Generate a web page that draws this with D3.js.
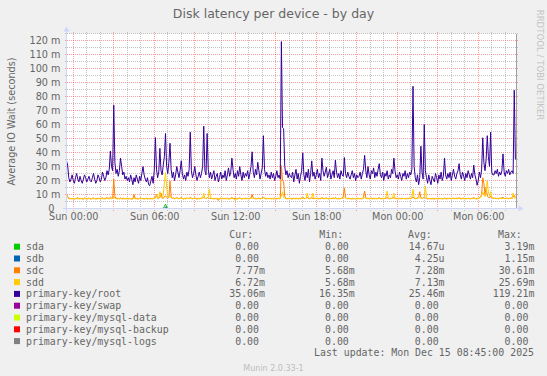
<!DOCTYPE html>
<html>
<head>
<meta charset="utf-8">
<script src="https://cdn.jsdelivr.net/npm/d3@7"></script>
<style>
  html, body { margin: 0; padding: 0; background: #f0f0f0; }
  svg { display: block; }
  text { font-family: "DejaVu Sans", sans-serif; fill: #666; }
  text.mono { font-family: "DejaVu Sans Mono", monospace; }
</style>
</head>
<body>
<div id="chart"></div>
<script>
// 5-minute samples starting Sat 23:30, values in milliseconds
const startTime = new Date(2025, 11, 13, 23, 30);
const endTime = new Date(2025, 11, 15, 8, 50);
const stepMin = 5;

const rootVals = [
  34,31,22,19,21,24,20,18,22,25,21,19,23,20,18,21,24,22,19,21,
  23,20,19,22,25,21,18,20,24,22,19,21,26,23,20,22,27,24,28,41,
  30,27,73.8,33,25,28,23,27,36,30,24,26,21,23,20,22,19,24,21,17,
  22,19,24,21,18,23,20,25,30,24,21,19,22,17,16.35,20,23,18,27,50.7,
  28,22,26,43,27,24,31,37,53.6,30,25,33,46.6,28,22,26,20,24,30,26,
  22,27,34,25,21,24,20,26,23,28,54.5,27,22,25,30,24,20,23,26,22,
  25,30,58.8,27,24,53.6,28,22,26,21,24,27,20,23,25,19,22,26,21,24,
  22,27,20,24,29,23,26,36,28,22,25,21,27,23,30,24,20,26,22,25,
  23,27,21,25,30,40.5,26,22,28,24,33,27,21,25,29,52,28,23,26,22,
  24,21,26,22,25,20,23,27,22,24,21,119.21,57.8,57,30,24,27,22,25,23,
  22,26,19,24,28,21,25,18,23,27,39.7,24,20,26,22,28,19,25,34,23,
  26,21,24,28,22,25,20,36,27,23,26,29.5,22,25,28,21,24,27,22,34.5,
  26,22,25,21,27,24,23,36.4,25,22,26,23,21,24,27,22,25,20,24,22,
  23,26,21,25,28,38,27,22,30,24,21,27,25,29,22,26,23,28,32,24,
  22,26,20,25,23,27,21,24,22,28,25,36,27,22,24,21,26,23,20,25,
  23,27,21,25,22,26,24,28,87.3,30,22,19,24,17,22,44.5,26,21,60,27,
  22,18,24,20,17,23,21,19,25,22,18,24,21,26,20,23,36,24,21,25,
  22,26,20,24,28,23,21,25,27,32,24,21,26,23,20,25,22,27,24,21,
  25,22,31,24,21,16.6,20,26,22,28,50.5,33,27,35,52,37,30,54.5,26,24,
  24,27,25,28,23,26,24,27,39,26,23,27,25,28,24,26,27,25,84.5,35.06
];

const sdcVals = [
  10,8.5,7,7.5,6.8,7.2,7,6.6,7.4,7,7.8,7.1,6.9,7.3,7,6.7,7.5,7.2,6.9,7.1,
  7.4,7,6.8,7.2,7.6,7.1,6.9,7.3,7,7.5,6.8,7.2,7.7,7.1,6.9,7.3,7.8,7.2,7.4,8.2,
  7.6,7.2,21,8.4,7.5,7.1,7.3,6.9,7.6,7.2,7,7.4,6.8,7.1,7.3,6.9,7.2,7,6.6,7.1,
  10,7.4,7,7.3,6.9,7.2,7.5,7,7.3,6.8,7.1,7.4,6.9,7.2,7,7.3,6.8,7.1,7.6,8,
  10,7.5,7.1,8,11,7.6,7.2,8.5,9,7.8,7.4,8,19.7,8.2,7.3,7.6,7,7.4,7.9,7.2,
  7,7.4,7.8,7.2,6.9,7.3,7,7.5,7.1,7.3,8,7.4,7,7.2,7.6,7.1,6.8,7.3,7,7.2,
  7.4,7.8,8.2,7.3,7,7.9,7.5,7.2,7,7.4,7.1,6.9,7.3,7,7.2,5.68,7.1,7.4,7,7.3,
  6.9,7.2,7,7.4,7.1,6.8,7.3,7.9,7.2,7,7.4,7.1,6.9,7.3,7.6,7.1,6.8,7.2,7,7.4,
  7.1,7.3,6.9,7.2,7.5,10,7.6,7.1,7.3,6.9,7.2,7.4,7,7.2,7.5,8.3,7.4,7.1,6.9,7.2,
  7,7.3,6.9,7.2,7,7.4,6.8,7.1,7.3,7,7.2,30.61,20,19,8.5,7.2,6.9,7.3,7,7.2,
  7.1,6.8,7.3,7,7.4,7.1,6.9,7.2,7,7.5,8.2,7.3,7,7.4,8,7.2,6.9,7.3,7.6,7.2,
  7,7.3,7.1,7.4,6.9,7.2,7,7.8,7.3,7,7.2,7.6,7.1,6.9,7.3,7,7.2,7.5,7.1,7.9,
  7.2,7,7.3,6.9,7.2,7.5,8.5,14.7,8,7.2,7,7.4,7.1,6.9,7.3,7,7.2,6.8,7.1,7.3,
  7,7.2,6.9,7.3,8,12.4,7.8,7.1,7.4,7,7.2,7.5,7.1,7.3,6.9,7.2,7,7.4,7.8,7.1,
  7,7.3,6.9,7.2,7.4,7.8,7.1,7,7.3,7.1,7.4,7.8,7.2,7,7.3,6.9,7.2,7,7.4,7.1,
  7.2,6.9,7.3,7,7.2,7.4,7.1,7.5,8.3,7.4,7,7.2,7.5,8.5,12,7.6,7.2,7.4,8.2,7.6,
  7.1,6.8,7.2,7,6.9,7.3,7,6.8,7.2,7.1,6.9,7.3,7,7.2,6.8,7.1,7.6,7.2,7,7.3,
  7.1,7.3,6.9,7.2,7.4,7,7.2,7.5,7.1,7.6,7.3,7,7.2,7.4,6.9,7.2,7,7.3,7.1,7,
  7.2,7.4,7.8,7.2,7,6.8,7.3,7.6,8.5,10,22,18,10,15,9,8,7.6,9,7.8,7.4,
  7.2,7.5,7.1,7.3,7,7.4,7.2,7.6,8,7.3,7.1,7.4,7.2,7,7.3,7.5,7.2,8,9.5,7.77
];

const sddVals = [
  9.5,8,7,6.8,7.2,6.9,7.1,6.6,7,7.3,6.8,7.1,6.9,7.2,6.7,7,7.3,6.9,7.1,6.8,
  7.2,6.9,7,7.3,6.8,7.1,7,6.7,7.2,6.9,7.1,7.4,6.8,7,7.2,6.9,7.5,7.1,6.8,7.3,
  7,7.2,8.5,7.4,7,6.8,7.1,6.9,7.2,7,6.7,7.1,6.9,7.2,6.8,7,7.1,6.9,6.6,7,
  7.2,6.9,7.1,6.8,7,7.3,6.9,7.1,7,6.8,7.2,6.9,7.1,7,6.8,7.1,6.9,7.2,7,7.4,
  9.8,7.3,7.6,12,8,7.5,10,18,25.69,15,8.5,7.8,9,7.6,7.2,7.4,7,7.2,7.6,7.1,
  6.9,7.2,7.5,7,6.8,7.1,6.9,7.3,7,7.2,7.6,7.1,6.9,7.2,7.4,7,6.8,7.1,6.9,7.2,
  7,7.4,11,7.3,7,7.5,8.2,13.8,7.8,7.2,7,6.8,7.1,6.9,7.2,7,6.8,7.1,6.9,7,
  7.2,6.9,7.1,7,6.8,7.2,7,7.4,7.1,6.9,5.68,7,6.8,7.1,7.3,7,6.9,7.2,7,7.1,
  6.9,7.2,7,7.1,7.3,7.6,7.2,7,6.9,7.1,7.3,7,6.8,7.1,7.2,7.8,7.1,6.9,7,7.2,
  6.9,7.1,7,7.2,6.8,7,7.1,6.9,7.2,7,7.1,9,12,8,7.4,7.1,6.9,7,7.2,7,
  6.9,7.1,7.3,7,6.8,7.2,7,7.1,6.9,7.2,7.4,7.1,7,7.3,11,7.5,7.1,7.4,8,11,
  7.3,7,7.2,6.9,7.1,7,7.3,7.6,7.1,6.9,7.2,7,7.1,6.8,7,7.2,6.9,7.1,7,7.3,
  7,7.2,6.9,7.1,7,7.3,7.6,8.2,7.4,7,7.2,6.9,7.1,7,6.8,7.1,7,7.2,6.9,7,
  7.1,6.9,7.2,7,7.3,7.8,7.2,7,7.1,6.9,7.2,7,6.8,7.1,7,7.2,6.9,7.1,7.3,7,
  6.9,7.1,7,7.2,8,12.4,7.5,7.1,7,7.3,8.2,11,7.4,7.1,6.9,7.2,7,7.1,6.9,7.2,
  7,7.1,6.9,7.2,7,7.3,7.1,7.6,13.6,7.8,7.1,7,7.2,7.5,8,7.4,7.1,7.6,8.5,16,
  8,7.1,6.9,7.2,7,6.8,7.1,7,6.9,7.2,7,6.8,7.1,7,7.2,6.9,7.3,7,6.8,7.1,
  7,7.2,6.9,7.1,7.3,7,7.2,6.9,7.1,7.4,7,6.8,7.1,7,7.2,6.9,7.1,7,7.2,6.9,
  7.1,7,7.3,7.1,6.9,7.2,7,7.4,7.8,9,12,10,8.5,11,19.7,12,9,12,8,7.4,
  7.1,7.3,7,7.2,6.9,7.1,7.3,7,7.5,7.2,7,7.1,7.3,7,7.2,7.4,7.1,11,8,6.72
];

// sparse [sampleIndex, value] readings for the near-zero series
const sdaPts = [[0,0],[86,0],[87,1.5],[88,3.19],[89,1.2],[90,0],[399,0]];
const sdbPts = [[0,0],[87,0],[88,1.15],[89,0.55],[90,0],[399,0]];
const zeroPts = [[0,0],[399,0]];

const seriesNames = ['sda','sdb','sdc','sdd','primary-key/root','primary-key/swap',
  'primary-key/mysql-data','primary-key/mysql-backup','primary-key/mysql-logs'];
const seriesColors = ['#00cc00','#0066b3','#ff8000','#ffcc00','#330099','#990099',
  '#ccff00','#ff0000','#808080'];
const curText = ['0.00','0.00','7.77m','6.72m','35.06m','0.00','0.00','0.00','0.00'];
const minText = ['0.00','0.00','5.68m','5.68m','16.35m','0.00','0.00','0.00','0.00'];
const avgText = ['14.67u','4.25u','7.28m','7.13m','25.46m','0.00','0.00','0.00','0.00'];
const maxText = ['3.19m','1.15m','30.61m','25.69m','119.21m','0.00','0.00','0.00','0.00'];
const colHeads = ['Cur:','Min:','Avg:','Max:'];

const yTicks = [0,10,20,30,40,50,60,70,80,90,100,110,120];
const yMax = 125;

const toPts = arr => arr.map((v, i) => [i, v]);
const seriesPts = [sdaPts, sdbPts, toPts(sdcVals), toPts(sddVals), toPts(rootVals),
  zeroPts, zeroPts, zeroPts, zeroPts];

// ---- layout
const W = 547, H = 376;
const L = 66.5, R = 516.5, T = 33.5, B = 208.5;

const svg = d3.select('#chart').append('svg').attr('width', W).attr('height', H);
svg.append('rect').attr('width', W).attr('height', H).attr('fill', '#f0f0f0');
svg.append('rect').attr('x', L).attr('y', T).attr('width', R - L).attr('height', B - T).attr('fill', '#fff');

const x = d3.scaleTime().domain([startTime, endTime]).range([L, R]);
const y = d3.scaleLinear().domain([0, yMax]).range([B, T]);
const tAt = i => new Date(+startTime + i * stepMin * 60000);

// grid
const gridG = svg.append('g').attr('shape-rendering', 'crispEdges');
const minorCol = 'rgba(150,150,150,0.55)', majorCol = 'rgba(255,0,0,0.38)';
const yMinor = d3.range(5, yMax + 1, 5);
gridG.selectAll('line.ym').data(yMinor).join('line')
  .attr('x1', L - 2).attr('x2', R + 2).attr('y1', d => y(d)).attr('y2', d => y(d))
  .attr('stroke', d => d % 10 === 0 ? majorCol : minorCol)
  .attr('stroke-dasharray', '1 1');
const xMinor = x.ticks(d3.timeHour.every(1));
const xMajor = x.ticks(d3.timeHour.every(3));
gridG.selectAll('line.xm').data(xMinor.filter(d => d.getHours() % 3 !== 0)).join('line')
  .attr('x1', d => x(d)).attr('x2', d => x(d)).attr('y1', T - 2).attr('y2', B + 2)
  .attr('stroke', minorCol).attr('stroke-dasharray', '1 1');
gridG.selectAll('line.xM').data(xMajor).join('line')
  .attr('x1', d => x(d)).attr('x2', d => x(d)).attr('y1', T - 2).attr('y2', B + 2)
  .attr('stroke', majorCol).attr('stroke-dasharray', '1 1');

// series
const line = d3.line().x(d => x(tAt(d[0]))).y(d => y(d[1]));
const seriesG = svg.append('g');
seriesPts.forEach((pts, k) => {
  seriesG.append('path').datum(pts)
    .attr('fill', 'none').attr('stroke', seriesColors[k]).attr('stroke-width', 1)
    .attr('stroke-linejoin', 'round').attr('d', line);
});

// right edge
svg.append('line').attr('x1', R).attr('x2', R).attr('y1', T).attr('y2', B)
  .attr('stroke', '#a0a0a0').attr('shape-rendering', 'crispEdges');

// axes + arrows
const axisCol = '#cfd6f8';
svg.append('line').attr('x1', L - 4).attr('x2', R + 4).attr('y1', B).attr('y2', B)
  .attr('stroke', axisCol).attr('shape-rendering', 'crispEdges');
svg.append('line').attr('x1', L).attr('x2', L).attr('y1', B + 4).attr('y2', T - 4)
  .attr('stroke', axisCol).attr('shape-rendering', 'crispEdges');
svg.append('path').attr('d', `M${R + 2},${B - 3}L${R + 7},${B}L${R + 2},${B + 3}Z`).attr('fill', axisCol);
svg.append('path').attr('d', `M${L - 3},${T - 2}L${L},${T - 7}L${L + 3},${T - 2}Z`).attr('fill', axisCol);

const yAxis = d3.axisLeft(y).tickValues(yTicks).tickSize(0).tickPadding(6)
  .tickFormat(d => d === 0 ? '0  ' : d + ' m');
svg.append('g').attr('transform', `translate(${L},0)`).call(yAxis)
  .call(g => g.select('.domain').remove())
  .selectAll('text').attr('font-family', 'DejaVu Sans').attr('font-size', 9.7)
  .attr('fill', '#666').style('white-space', 'pre');

const xAxis = d3.axisBottom(x).ticks(d3.timeHour.every(6)).tickSize(0)
  .tickFormat(d3.timeFormat('%a %H:%M'));
svg.append('g').attr('transform', `translate(0,${B})`).call(xAxis)
  .call(g => g.select('.domain').remove())
  .selectAll('text').attr('y', 11.5).attr('dy', null)
  .attr('font-family', 'DejaVu Sans').attr('font-size', 9.7).attr('fill', '#666');

// titles
svg.append('text').attr('x', 273.5).attr('y', 17.5).attr('text-anchor', 'middle')
  .attr('font-size', 12.5).text('Disk latency per device - by day');
svg.append('text').attr('transform', 'translate(14.5,121.5) rotate(-90)')
  .attr('text-anchor', 'middle').attr('font-size', 9.7).text('Average IO Wait (seconds)');
svg.append('text').attr('transform', 'translate(536.5,65) rotate(90)')
  .attr('text-anchor', 'middle').attr('font-size', 8.6).attr('fill', '#c4c4c4')
  .style('fill', '#c4c4c4').text('RRDTOOL / TOBI OETIKER');

// legend
const lg = svg.append('g');
const fs = 9.9;
const headX = [229.3, 319.3, 408, 498];
const numEnd = [259, 348.8, 438.6, 528.4];
const cols = [curText, minText, avgText, maxText];
lg.selectAll('text.head').data(colHeads).join('text').attr('class', 'mono')
  .attr('x', (d, i) => headX[i]).attr('y', 238).attr('font-size', fs).text(d => d);

const rowY = i => 250.2 + i * 11.8;
seriesNames.forEach((name, i) => {
  lg.append('rect').attr('x', 14).attr('y', rowY(i) - 6.5).attr('width', 6).attr('height', 6)
    .attr('fill', seriesColors[i]);
  lg.append('text').attr('class', 'mono').attr('x', 26).attr('y', rowY(i))
    .attr('font-size', fs).text(name);
  cols.forEach((col, c) => {
    const s = col[i];
    const suf = /[a-z]$/.test(s) ? s.slice(-1) : '';
    const num = suf ? s.slice(0, -1) : s;
    lg.append('text').attr('class', 'mono').attr('x', numEnd[c]).attr('y', rowY(i))
      .attr('text-anchor', 'end').attr('font-size', fs).text(num);
    if (suf) lg.append('text').attr('class', 'mono').attr('x', numEnd[c]).attr('y', rowY(i))
      .attr('font-size', fs).text(suf);
  });
});
lg.append('text').attr('class', 'mono').attr('x', 534).attr('y', 356.4)
  .attr('text-anchor', 'end').attr('font-size', fs)
  .text('Last update: Mon Dec 15 08:45:00 2025');

svg.append('text').attr('x', 273.5).attr('y', 371).attr('text-anchor', 'middle')
  .attr('font-size', 8).style('fill', '#bdbdbd').text('Munin 2.0.33-1');
</script>
</body>
</html>
